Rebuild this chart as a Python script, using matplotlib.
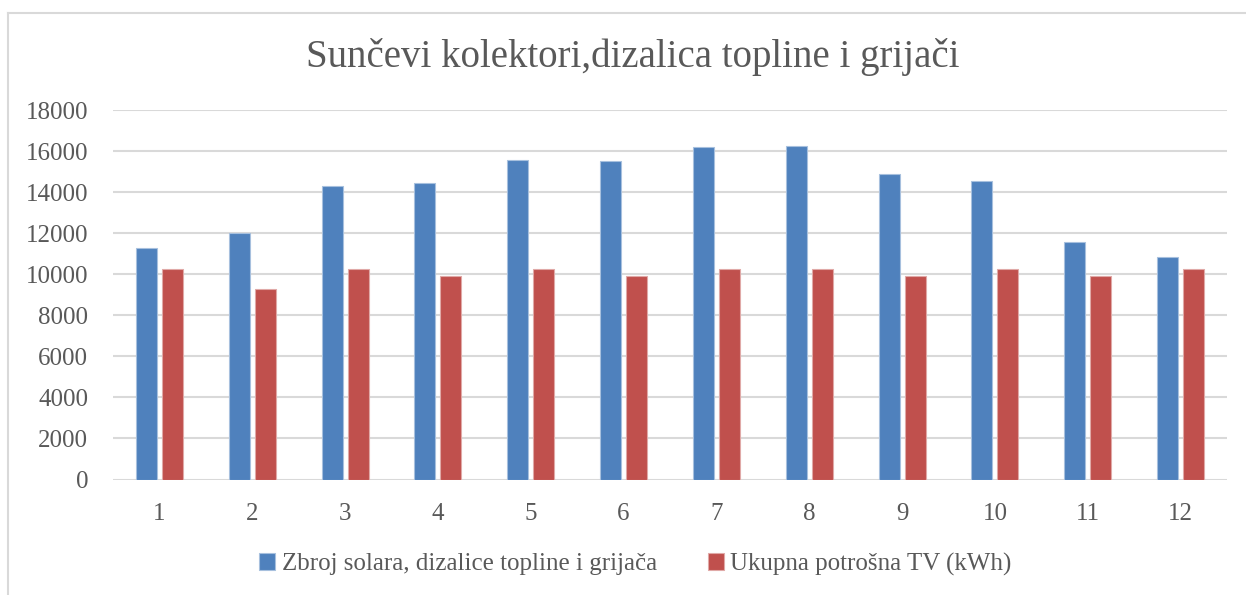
import matplotlib.pyplot as plt
import numpy as np
from matplotlib.lines import Line2D

mjeseci = ['1', '2', '3', '4', '5', '6', '7', '8', '9', '10', '11', '12']
zbroj = [11280, 12000, 14290, 14430, 15570, 15530, 16210, 16230, 14900, 14540, 11570, 10840]
potrosnja = [10261, 9268, 10261, 9930, 10261, 9930, 10261, 10261, 9930, 10261, 9930, 10261]
naslov = 'Sunčevi kolektori,dizalica topline i grijači'
serija1 = 'Zbroj solara, dizalice topline i grijača'
serija2 = 'Ukupna potrošna TV (kWh)'

plt.rcParams['font.family'] = ['Liberation Serif', 'DejaVu Serif']
siva = '#595959'
linija = '#d9d9d9'

fig = plt.figure(figsize=(12.46, 5.95), dpi=100)
ax = fig.add_axes([0.0907, 0.1941, 0.894, 0.6210])

x = np.arange(len(mjeseci))
sirina = 0.226
ax.bar(x - 0.14, zbroj, sirina, color='#4f81bd', edgecolor='#a7c0de', linewidth=0.8,
       label=serija1, zorder=3)
ax.bar(x + 0.14, potrosnja, sirina, color='#c0504d', edgecolor='#e0a9a7', linewidth=0.8,
       label=serija2, zorder=3)

ax.set_xlim(-0.5, len(mjeseci) - 0.5)
ax.set_ylim(0, 18000)
ax.set_yticks(range(0, 18001, 2000))
ax.set_xticks(x)
ax.set_xticklabels(mjeseci)
ax.yaxis.grid(True, color=linija, linewidth=1.5, zorder=0)
ax.set_axisbelow(True)
for s in ax.spines.values():
    s.set_visible(False)
ax.tick_params(length=0, labelsize=18, colors=siva)
ax.tick_params(axis='y', pad=18)
ax.tick_params(axis='x', pad=17)

fig.text(0.508, 0.905, naslov, ha='center', va='center', fontsize=28, color=siva)

leg = fig.legend(loc='center', bbox_to_anchor=(0.510, 0.052), ncol=2, frameon=False,
                 fontsize=18, handlelength=0.65, handleheight=0.65, handletextpad=0.25,
                 columnspacing=2.05)
for t in leg.get_texts():
    t.set_color(siva)

# okvir grafikona
fig.add_artist(Line2D([8 / 1246, 8 / 1246], [0, 1 - 12.5 / 595], color=linija, linewidth=1.5))
fig.add_artist(Line2D([8 / 1246, 1], [1 - 12.5 / 595, 1 - 12.5 / 595], color=linija, linewidth=1.5))

fig.savefig('out.png', dpi=100, facecolor='white')
